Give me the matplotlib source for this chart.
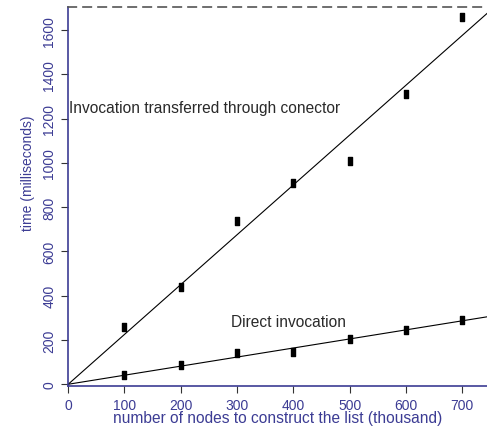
import numpy as np
import matplotlib.pyplot as plt
from matplotlib.path import Path

# measured times (milliseconds) against list size (thousand nodes)
nodes = np.array([100, 200, 300, 400, 500, 600, 700])
t_connector = np.array([260, 440, 740, 910, 1010, 1310, 1660])
t_direct = np.array([40, 85, 140, 145, 205, 245, 290])

xticks = [0, 100, 200, 300, 400, 500, 600, 700]
yticks = [0, 200, 400, 600, 800, 1000, 1200, 1400, 1600]

plt.rcParams['font.family'] = ['Liberation Sans', 'DejaVu Sans']
blue = '#3c3c94'

# tall narrow box marker
box = Path([(-0.55, -1), (0.55, -1), (0.55, 1), (-0.55, 1), (-0.55, -1)],
           [Path.MOVETO, Path.LINETO, Path.LINETO, Path.LINETO, Path.CLOSEPOLY])

fig = plt.figure(figsize=(4.87, 4.31), dpi=100)
ax = fig.add_axes([0.14, 0.102, 0.86, 0.879])

xs = np.array([0, 744])
for t in (t_connector, t_direct):
    # fit through the origin
    slope = np.sum(nodes * t) / np.sum(nodes ** 2)
    ax.plot(xs, slope * xs, color='black', lw=0.8)
    ax.plot(nodes, t, linestyle='none', marker=box, markersize=6,
            color='black')

ax.text(2, 1250, 'Invocation transferred through conector', fontsize=11.2,
        color='#2a2a2a', va='center')
ax.text(290, 282, 'Direct invocation', fontsize=11.2, color='#2a2a2a',
        va='center')

ax.set_xlim(0, 744)
ax.set_ylim(-8, 1704)
ax.set_xticks(xticks)
ax.set_yticks(yticks)
ax.tick_params(colors='#333333', labelcolor=blue, labelsize=10, length=5)
for lab in ax.get_yticklabels():
    lab.set_rotation(90)
    lab.set_va('center')

ax.spines['right'].set_visible(False)
ax.spines['left'].set_color(blue)
ax.spines['bottom'].set_color(blue)
ax.spines['left'].set_linewidth(1.2)
ax.spines['bottom'].set_linewidth(1.2)
ax.spines['top'].set_linestyle((0, (5, 4)))
ax.spines['top'].set_color('#555555')
ax.spines['top'].set_linewidth(1.2)

ax.set_xlabel('number of nodes to construct the list (thousand)', color=blue,
              fontsize=11.2, labelpad=-1)
ax.set_ylabel('time (milliseconds)', color=blue, fontsize=10)
ax.yaxis.set_label_coords(-0.08, 0.565)

fig.savefig('out.png', dpi=100)
